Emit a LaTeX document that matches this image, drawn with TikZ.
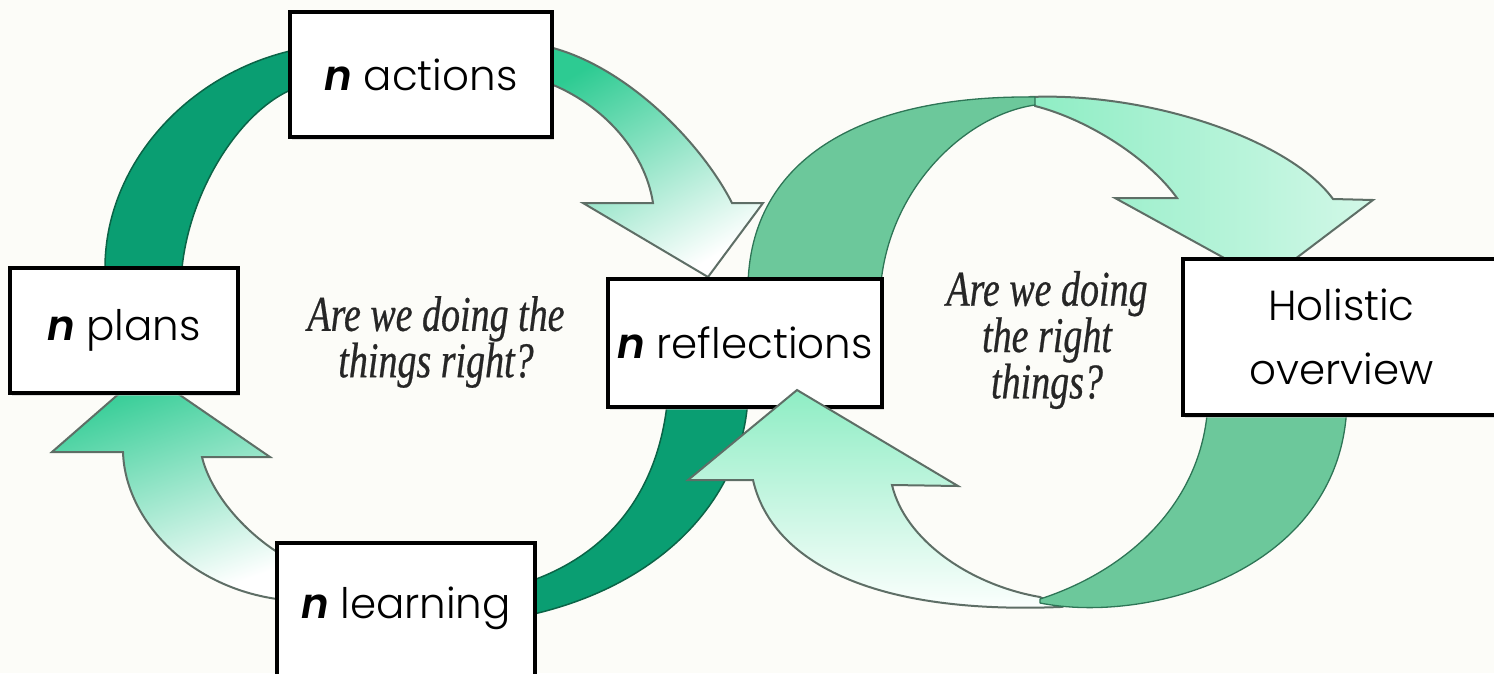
\documentclass[tikz,border=0pt]{standalone}
\usepackage{fontspec}
\setmainfont{Poppins}[UprightFont=* Light, BoldItalicFont=* SemiBold Italic]
\newfontfamily\qfont{Liberation Serif}[FakeStretch=0.76,FakeBold=0.5]
\usetikzlibrary{shadows}
\definecolor{bg}{HTML}{FCFCF8}
\definecolor{darkg}{HTML}{0A9E72}
\definecolor{darkgline}{HTML}{0B6447}
\definecolor{medg}{HTML}{6CC89B}
\definecolor{medgline}{HTML}{2E7556}
\definecolor{gradg}{HTML}{2DCB92}
\definecolor{mint}{HTML}{8EEDC4}
\definecolor{arrline}{HTML}{5E6E66}
\begin{document}
\begin{tikzpicture}[x=1pt,y=-1pt,
  darkarc/.style={fill=darkg,draw=darkgline,line width=1.5pt,line join=round},
  medarc/.style={fill=medg,draw=medgline,line width=1.3pt,line join=round},
  gradarrow/.style={draw=arrline,line width=2pt,line join=miter},
  lightarrow/.style={draw=arrline,line width=2pt,line join=miter},
  box/.style={draw=black,fill=white,line width=4pt,inner sep=0pt,
    font=\fontsize{42}{50}\selectfont,
    drop shadow={shadow xshift=2pt,shadow yshift=-3pt,fill=black!25}},
  lbl/.style={inner sep=0pt,font=\fontsize{42}{50}\selectfont},
  question/.style={inner sep=0pt,align=center,text=black!85}]
\useasboundingbox (0,0) rectangle (1494,673);
\clip (0,0) rectangle (1494,673);
\fill[bg] (0,0) rectangle (1494,673);

% left loop: dark back parts
\draw[darkarc] (105,290) -- (105,268) .. controls (105,160) and (195,65) .. (310,47)
  -- (310,88) -- (295,88) .. controls (240,110) and (190,190) .. (182,268) -- (182,290) -- cycle;
\draw[darkarc] (668,390) -- (668,395) .. controls (660,490) and (610,555) .. (525,583)
  -- (520,583) -- (520,616) -- (525,616) .. controls (670,585) and (745,490) .. (748,395) -- (748,390) -- cycle;

% left loop: gradient front arrows
\draw[gradarrow,top color=gradg,middle color=gradg!35,bottom color=white,shading angle=30]
  (540,45) .. controls (620,60) and (700,140) .. (732,203) -- (763,203) -- (708,277)
  -- (583,203) -- (653,203) .. controls (645,150) and (600,100) .. (540,80) -- cycle;
\draw[gradarrow,top color=gradg,middle color=gradg!35,bottom color=white,shading angle=20]
  (285,600) .. controls (190,590) and (125,520) .. (123,452) -- (52,452) -- (145,371)
  -- (270,457) -- (202,457) .. controls (210,490) and (240,530) .. (285,557) -- cycle;

% right loop: top
\draw[lightarrow,left color=mint,right color=mint!40]
  (1030,97) .. controls (1150,92) and (1290,140) .. (1333,199) -- (1373,200) -- (1266,281)
  -- (1115,198) -- (1177,198) .. controls (1150,160) and (1090,120) .. (1035,106) -- cycle;
\draw[medarc] (748,295) .. controls (745,160) and (860,95) .. (1035,97)
  -- (1035,105) .. controls (965,115) and (885,190) .. (880,295) -- cycle;

% boxes
\node[box,minimum width=262pt,minimum height=125pt] (act) at (421,74.5) {\textbf{\textit{n}} actions};
\node[box,minimum width=228pt,minimum height=125pt] (plans) at (124,330.5) {\textbf{\textit{n}} plans};
\node[box,minimum width=274pt,minimum height=128pt] (refl) at (745,343) {\textbf{\textit{n}} reflections};
\node[box,minimum width=258pt,minimum height=160pt] (learnbox) at (406,623) {};
\node[lbl] (learn) at (406,608) {\textbf{\textit{n}} learning};

% right loop: bottom
\draw[lightarrow,top color=mint,bottom color=white]
  (1060,607) .. controls (860,615) and (770,555) .. (753,480) -- (688,480) -- (797,390)
  -- (958,486) -- (892,485) .. controls (905,540) and (970,585) .. (1040,597) -- cycle;
\draw[medarc] (1208,400) .. controls (1205,500) and (1130,570) .. (1040,599)
  -- (1040,603) .. controls (1150,625) and (1345,570) .. (1347,400) -- cycle;

\node[box,minimum width=317pt,minimum height=156pt,align=center] (holi) at (1341.5,337) {Holistic\\[14pt]overview};

% questions
\node[question,font=\qfont\itshape\fontsize{50}{34}\selectfont] (q1) at (436,342) {Are we doing the\\things right?};
\node[question,font=\qfont\itshape\fontsize{50}{40}\selectfont] (q2) at (1047,340) {Are we doing\\the right\\things?};
\end{tikzpicture}
\end{document}
